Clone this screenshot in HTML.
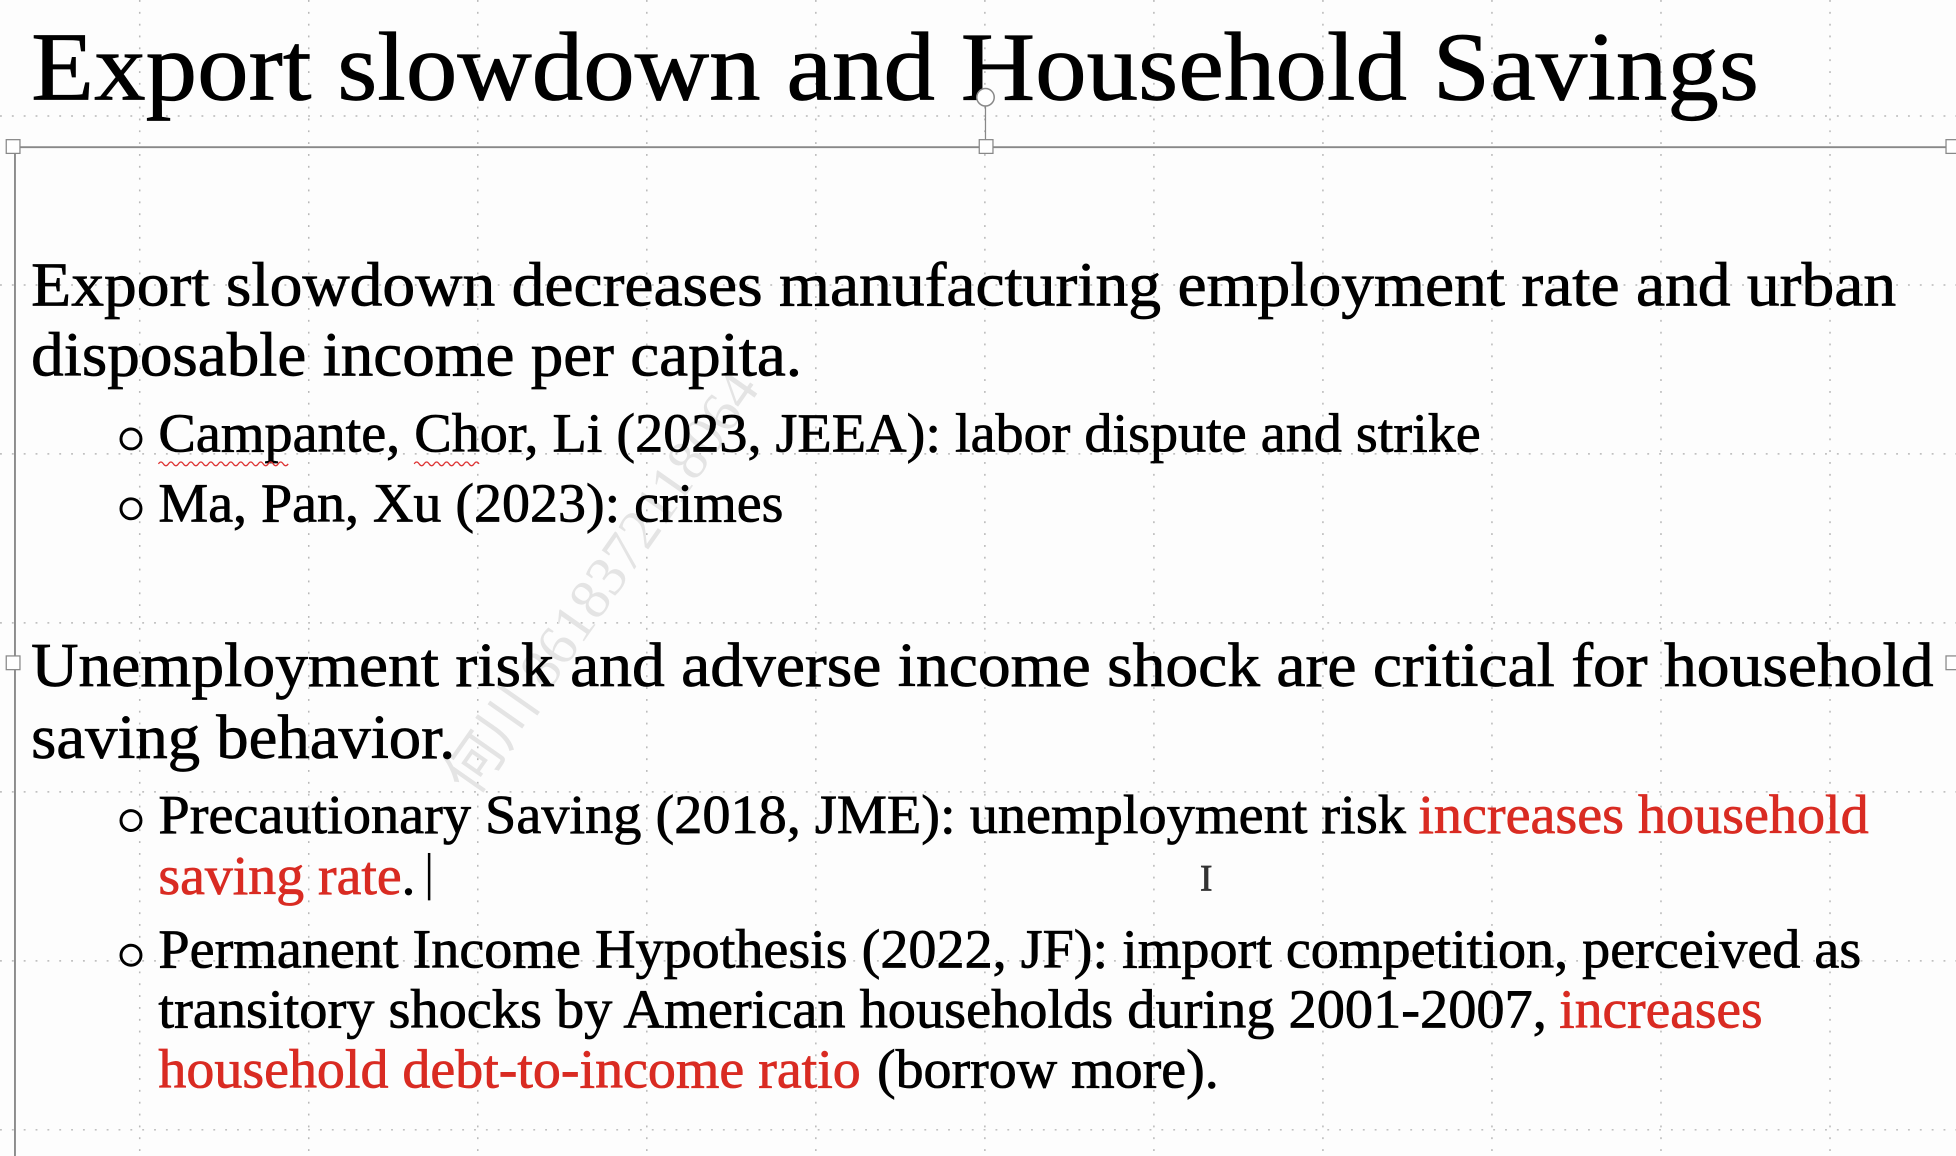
<!DOCTYPE html>
<html><head><meta charset="utf-8"><style>
html,body{margin:0;padding:0;background:#fdfdfd;}
svg{display:block;}
text{font-family:"Liberation Serif",serif;}
#body-text text,#title{stroke:currentColor;stroke-width:0.6;}
</style></head><body>
<svg width="1956" height="1156" viewBox="0 0 1568 927" preserveAspectRatio="none" xmlns="http://www.w3.org/2000/svg">
<rect width="1568" height="927" fill="#fdfdfd"/>
<g id="grid" stroke="#b8b8b8" stroke-width="1.2" stroke-dasharray="1.5 8"></g>
<text x="0" y="0" transform="translate(380,640) rotate(-55)" font-size="46" fill="#e4e4e4" font-family="Liberation Sans, Noto Sans CJK SC, sans-serif">何川 8618372118064</text>
<text id="title" x="25" y="80" font-size="78" textLength="1385" lengthAdjust="spacingAndGlyphs" fill="#000" color="#000">Export slowdown and Household Savings</text>
<g>
<line x1="10" y1="118" x2="1565" y2="118" stroke="#888" stroke-width="1.5"/>
<line x1="12" y1="118" x2="12" y2="927" stroke="#888" stroke-width="1.5"/>
<line x1="790" y1="84" x2="790" y2="118" stroke="#888" stroke-width="1"/>
<circle cx="790" cy="78" r="7" fill="#fff" stroke="#888" stroke-width="1.2"/>
<rect x="5" y="112" width="11" height="11" fill="#fff" stroke="#888"/>
<rect x="785" y="112" width="11" height="11" fill="#fff" stroke="#888"/>
<rect x="1560" y="112" width="11" height="11" fill="#fff" stroke="#888"/>
<rect x="5" y="526" width="11" height="11" fill="#fff" stroke="#888"/>
<rect x="1560" y="526" width="11" height="11" fill="#fff" stroke="#888"/>
</g>
<g id="body-text" fill="#000" color="#000">
<text x="25" y="245" font-size="50" textLength="1495" lengthAdjust="spacingAndGlyphs">Export slowdown decreases manufacturing employment rate and urban</text>
<text x="25" y="301" font-size="50" textLength="618" lengthAdjust="spacingAndGlyphs">disposable income per capita.</text>
<circle cx="105" cy="352" r="8" fill="none" stroke="#000" stroke-width="2.4"/>
<text x="127" y="362" font-size="44" textLength="1060" lengthAdjust="spacingAndGlyphs">Campante, Chor, Li (2023, JEEA): labor dispute and strike</text>
<path d="M127 372 q2 -3 4 0 t4 0 t4 0 t4 0 t4 0 t4 0 t4 0 t4 0 t4 0 t4 0 t4 0 t4 0 t4 0 t4 0 t4 0 t4 0 t4 0 t4 0 t4 0 t4 0 t4 0 t4 0 t4 0 t4 0 t4 0 t4 0 M332 372 q2 -3 4 0 t4 0 t4 0 t4 0 t4 0 t4 0 t4 0 t4 0 t4 0 t4 0 t4 0 t4 0 t4 0" fill="none" stroke="#d33" stroke-width="1"/>
<circle cx="105" cy="408" r="8" fill="none" stroke="#000" stroke-width="2.4"/>
<text x="127" y="418" font-size="44" textLength="501" lengthAdjust="spacingAndGlyphs">Ma, Pan, Xu (2023): crimes</text>
<text x="25" y="550" font-size="50" textLength="1525" lengthAdjust="spacingAndGlyphs">Unemployment risk and adverse income shock are critical for household</text>
<text x="25" y="608" font-size="50" textLength="340" lengthAdjust="spacingAndGlyphs">saving behavior.</text>
<circle cx="105" cy="658" r="8" fill="none" stroke="#000" stroke-width="2.4"/>
<text x="127" y="668" font-size="44" textLength="1000" lengthAdjust="spacingAndGlyphs">Precautionary Saving (2018, JME): unemployment risk</text>
<text x="1137" y="668" font-size="44" fill="#d92b22" color="#d92b22" textLength="361" lengthAdjust="spacingAndGlyphs">increases household</text>
<text x="127" y="717" font-size="44" fill="#d92b22" color="#d92b22" textLength="195" lengthAdjust="spacingAndGlyphs">saving rate</text>
<text x="322" y="717" font-size="44">.</text>
<line x1="344" y1="684" x2="344" y2="722" stroke="#000" stroke-width="2"/>
<text x="962" y="714" font-size="30" fill="#333" color="#333">I</text>
<circle cx="105" cy="766" r="8" fill="none" stroke="#000" stroke-width="2.4"/>
<text x="127" y="776" font-size="44" textLength="1365" lengthAdjust="spacingAndGlyphs">Permanent Income Hypothesis (2022, JF): import competition, perceived as</text>
<text x="127" y="824" font-size="44" textLength="1113" lengthAdjust="spacingAndGlyphs">transitory shocks by American households during 2001-2007,</text>
<text x="1250" y="824" font-size="44" fill="#d92b22" color="#d92b22" textLength="163" lengthAdjust="spacingAndGlyphs">increases</text>
<text x="127" y="872" font-size="44" fill="#d92b22" color="#d92b22" textLength="563" lengthAdjust="spacingAndGlyphs">household debt-to-income ratio</text>
<text x="703" y="872" font-size="44" textLength="274" lengthAdjust="spacingAndGlyphs">(borrow more).</text>
</g>
<script>
const g=document.getElementById('grid');
for(let x=112;x<1568;x+=135.5){const l=document.createElementNS('http://www.w3.org/2000/svg','line');


l.setAttribute('x1',x);l.setAttribute('x2',x);l.setAttribute('y1',0);l.setAttribute('y2',927);g.appendChild(l);}
for(let y=93;y<927;y+=135.5){const l=document.createElementNS('http://www.w3.org/2000/svg','line');


l.setAttribute('x1',0);l.setAttribute('x2',1568);l.setAttribute('y1',y);l.setAttribute('y2',y);g.appendChild(l);}
</script>
</svg>
</body></html>
